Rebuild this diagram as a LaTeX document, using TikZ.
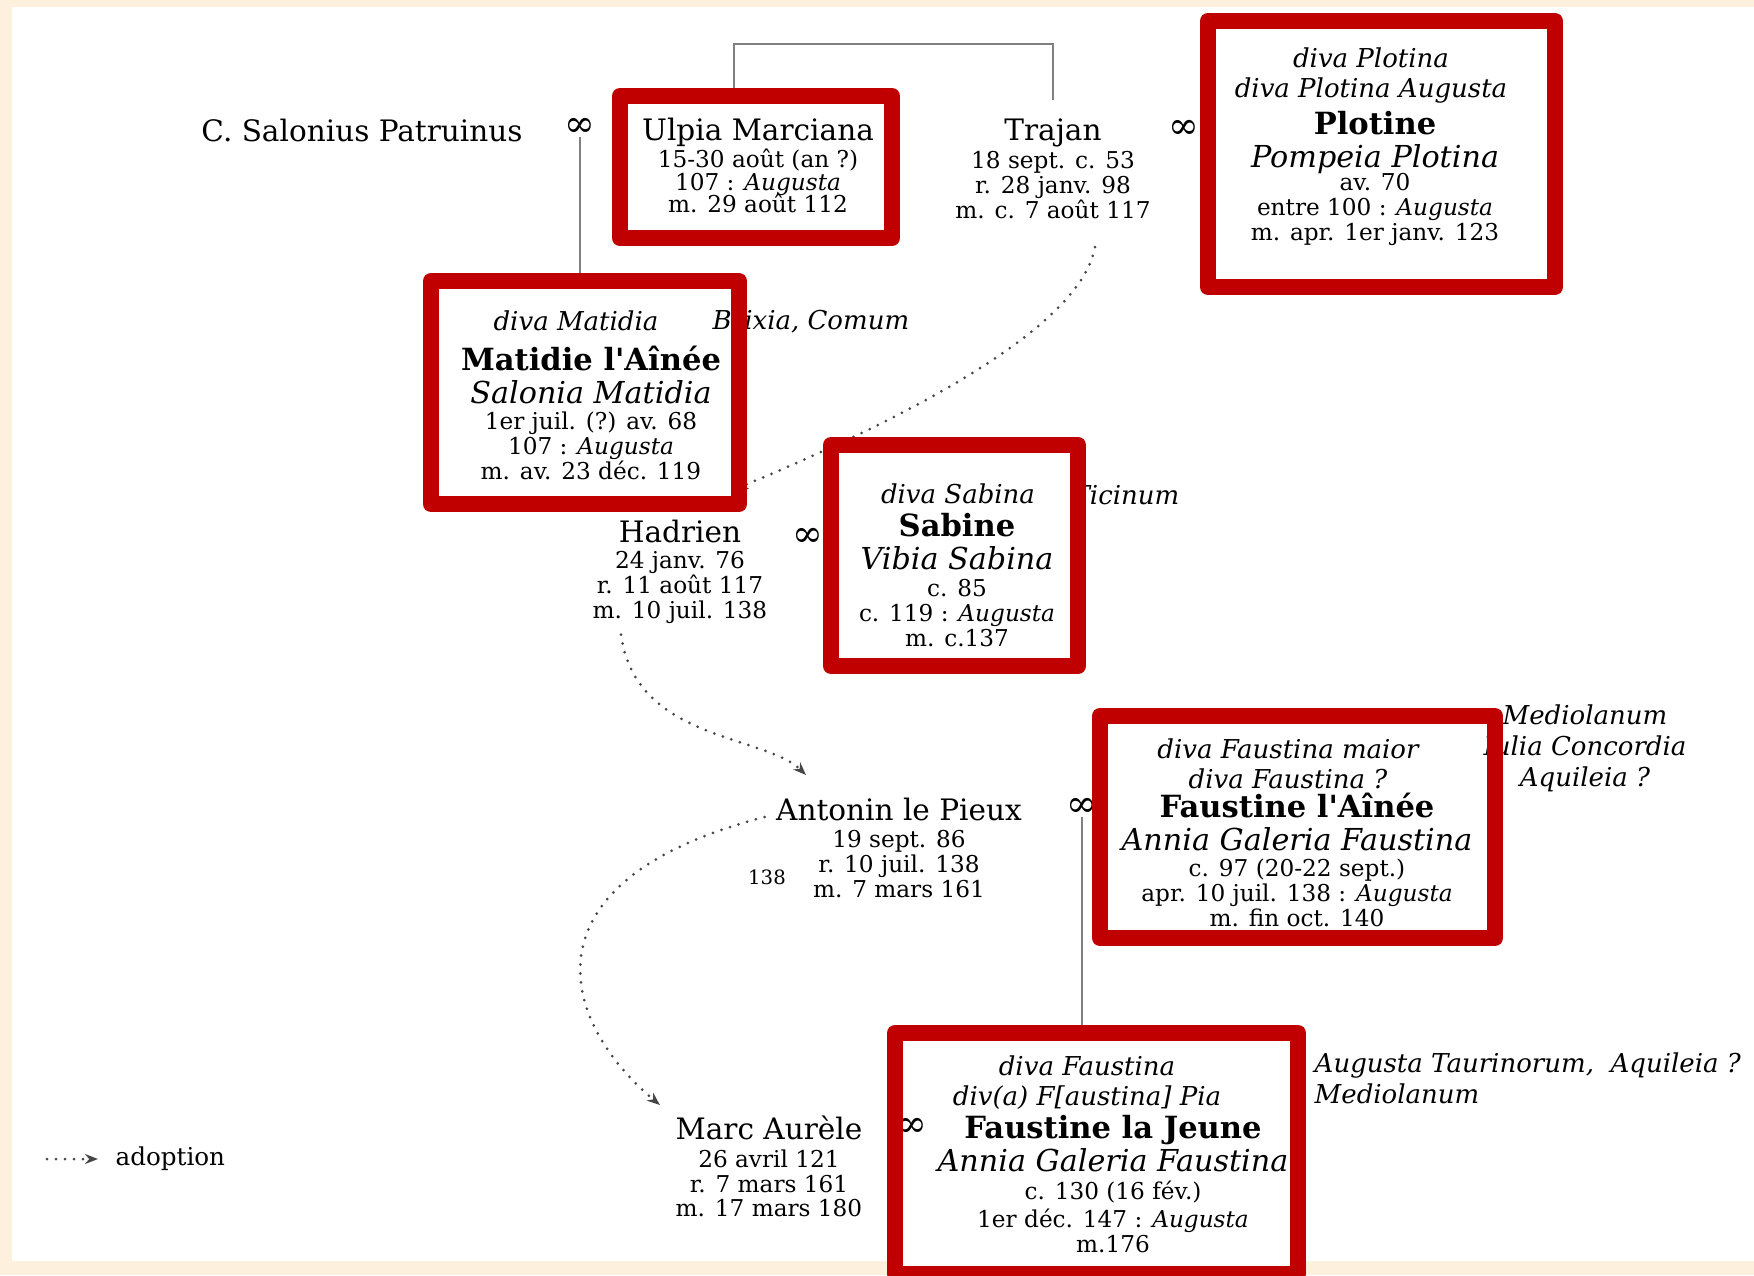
\documentclass[tikz,border=0pt]{standalone}
\usepackage{fontspec}
\setmainfont{DejaVu Serif}
\usetikzlibrary{arrows.meta,calc}
\definecolor{cream}{RGB}{253,240,220}
\definecolor{boxred}{RGB}{192,0,0}
\definecolor{kingray}{RGB}{128,128,128}
\definecolor{dotgray}{RGB}{70,70,70}
\newcommand\datefont{\fontsize{6.6}{7.1}\selectfont\lineskiplimit=-10pt}
\newcommand\persname[1]{{\fontsize{8.4}{9}\selectfont #1}}
\newcommand\boldname[1]{{\fontsize{8.7}{9}\selectfont\bfseries #1}}
\newcommand\latinname[1]{{\fontsize{8.6}{9}\selectfont\itshape #1}}
\tikzset{
  person/.style={align=center, inner sep=0pt, anchor=north, font=\datefont},
  divatitle/.style={align=center, inner sep=0pt, anchor=north, font=\fontsize{7.4}{8.5}\selectfont\itshape},
  place/.style={inner sep=0pt, font=\fontsize{7.4}{8.8}\selectfont\itshape},
  marr/.style={inner sep=0pt, font=\fontsize{10.5}{11}\selectfont},
  boxarea/.style={fill=white, inner sep=0pt, outer sep=0pt},
  redframe/.style={draw=boxred, line width=1.6mm, line join=round},
  kin/.style={draw=kingray, line width=0.25mm},
  adopt/.style={draw=dotgray, line width=0.3mm, line cap=round, dash pattern=on 0pt off 0.9mm, -{Stealth[length=1.3mm,width=1mm]}},
}
\begin{document}
\begin{tikzpicture}[x=0.1mm, y=-0.1mm]
	\useasboundingbox (0,0) rectangle (1754,1275);
	\fill[cream] (0,0) rectangle (1754,1275);
	\fill[white] (12,7) rectangle (1754,1261);

	\node[boxarea, minimum width=27.2mm, minimum height=14.2mm] (ulpiabox) at (756,167) {};
	\node[boxarea, minimum width=34.7mm, minimum height=26.6mm] (plotinebox) at (1381.5,154) {};
	\node[boxarea, minimum width=30.8mm, minimum height=22.3mm] (matidiabox) at (585,392.5) {};
	\node[boxarea, minimum width=24.7mm, minimum height=22.1mm] (sabinebox) at (954.5,555.5) {};
	\node[boxarea, minimum width=39.5mm, minimum height=22.2mm] (aineebox) at (1297.5,827) {};
	\node[boxarea, minimum width=40.3mm, minimum height=24.1mm] (jeunebox) at (1096.5,1153.5) {};

	\node[person] (salonius) at (362,118) {\persname{C. Salonius Patruinus}};
	\node[person] (ulpia) at (758,117) {\persname{Ulpia Marciana}\\[0.8pt] 15-30 août (an ?)\\[-0.7pt] 107 : \textit{Augusta}\\[-0.7pt] m. 29 août 112};
	\node[person] (trajan) at (1053,118) {\persname{Trajan}\\[0.8pt] 18 sept. c. 53\\ r. 28 janv. 98\\ m. c. 7 août 117};
	\node[divatitle] (plotinetitle) at (1371,47) {diva Plotina\\ diva Plotina Augusta};
	\node[person] (plotine) at (1375,111) {\boldname{Plotine}\\[2.1pt] \latinname{Pompeia Plotina}\\[-0.5pt] av. 70\\ entre 100 : \textit{Augusta}\\ m. apr. 1er janv. 123};
	\node[divatitle] (matidiatitle) at (576,310) {diva Matidia};
	\node[person] (matidia) at (591,345) {\boldname{Matidie l\textquotesingle Aînée}\\[2.3pt] \latinname{Salonia Matidia}\\[0.4pt] 1er juil. (?) av. 68\\ 107 : \textit{Augusta}\\ m. av. 23 déc. 119};
	\node[divatitle] (sabinetitle) at (958,483) {diva Sabina};
	\node[person] (sabine) at (957,513) {\boldname{Sabine}\\[2.3pt] \latinname{Vibia Sabina}\\[0.4pt] c. 85\\ c. 119 : \textit{Augusta}\\ m. c.137};
	\node[person] (hadrien) at (680,519) {\persname{Hadrien}\\[0.5pt] 24 janv. 76\\ r. 11 août 117\\ m. 10 juil. 138};
	\node[divatitle] (aineetitle) at (1288,738) {diva Faustina maior\\ diva Faustina ?};
	\node[person] (ainee) at (1297,792) {\boldname{Faustine l\textquotesingle Aînée}\\[2.3pt] \latinname{Annia Galeria Faustina}\\[0.4pt] c. 97 (20-22 sept.)\\ apr. 10 juil. 138 : \textit{Augusta}\\ m. fin oct. 140};
	\node[person] (antonin) at (899,797) {\persname{Antonin le Pieux}\\[0.8pt] 19 sept. 86\\ r. 10 juil. 138\\ m. 7 mars 161};
	\node[inner sep=0pt, font=\fontsize{5.6}{6}\selectfont] (antoninyear) at (767,877) {138};
	\node[divatitle] (jeunetitle) at (1087,1055) {diva Faustina\\ div(a) F[austina] Pia};
	\node[person] (jeune) at (1113,1115) {\boldname{Faustine la Jeune}\\[2.3pt] \latinname{Annia Galeria Faustina}\\[0.6pt] c. 130 (16 fév.)\\[0.9pt] 1er déc. 147 : \textit{Augusta}\\ m.176};
	\node[person] (marc) at (769,1115) {\persname{Marc Aurèle}\\[0.8pt] 26 avril 121\\ r. 7 mars 161\\ m. 17 mars 180};

	\node[marr] (salinf) at (580,127) {∞};
	\node[marr] (trajinf) at (1184,129) {∞};
	\node[marr] (hadinf) at (808,537) {∞};
	\node[marr] (antinf) at (1082,807) {∞};
	\node[marr] (marcinf) at (912,1127) {∞};

	\draw[kin] (salinf.south) -- (salinf.south |- matidiabox.north);
	\draw[kin] ($(ulpiabox.north)+(-22,0)$) |- ($(trajan.north)+(0,-74)$) -- ($(trajan.north)+(0,-18)$);
	\draw[kin] (antinf.south) -- (antinf.south |- jeunebox.north);

	\draw[adopt] ($(trajan.south)+(42,28)$) .. controls +(-15,85) and +(151,-62) .. ($(hadrien.north)+(55,-30)$);
	\draw[adopt] ($(hadrien.south)+(-59,10)$) .. controls +(14,106) and +(-41,-40) .. ($(antonin.north)+(-93,-22)$);
	\draw[adopt] ($(antonin.north west)+(-11,20)$) .. controls +(-244,63) and +(-102,-85) .. ($(marc.north west)+(-15,-10)$);

	\node[inner sep=0pt, anchor=west, font=\fontsize{7}{8}\selectfont] (adoptlegend) at (115,1159) {adoption};
	\coordinate (legendstart) at (47,1159);
	\draw[adopt, shorten >=1.7mm] (legendstart) -- (adoptlegend.west);

	\node[place, anchor=west] (brixia) at (712,322) {Brixia, Comum};
	\node[place, anchor=east] (ticinum) at (1180,495) {Ticinum};
	\node[place, align=center] (aineeplaces) at (1585,748) {Mediolanum\\ Iulia Concordia\\ Aquileia ?};
	\node[place, align=left, anchor=north west] (jeuneplaces) at (1314,1052) {Augusta Taurinorum,~ Aquileia ?\\ Mediolanum};

	\foreach \b in {ulpiabox,plotinebox,matidiabox,sabinebox,aineebox,jeunebox}
		\draw[redframe] (\b.north west) rectangle (\b.south east);
\end{tikzpicture}
\end{document}
